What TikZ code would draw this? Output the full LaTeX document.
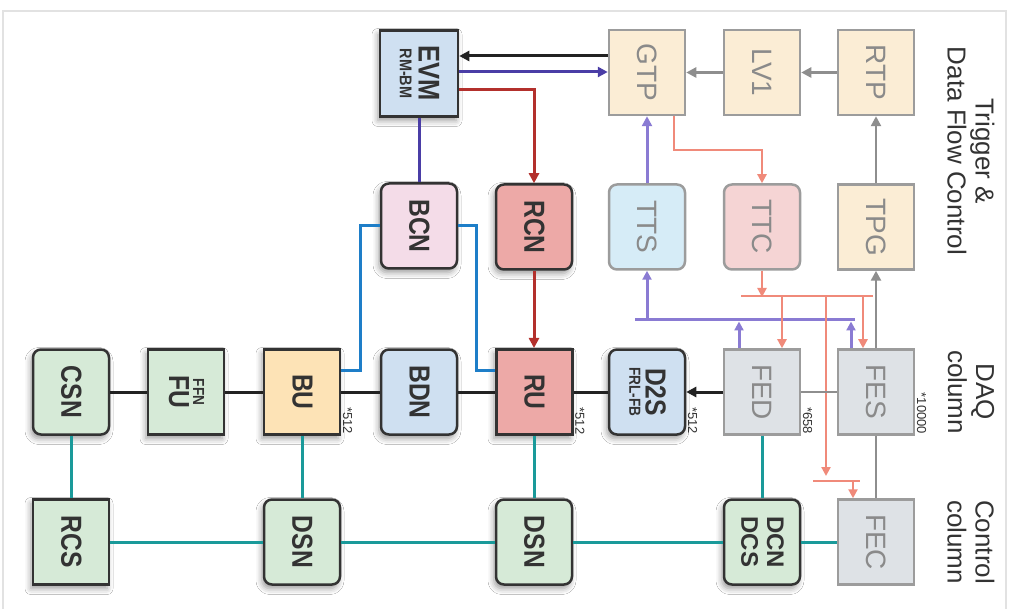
\documentclass[tikz,border=0pt]{standalone}
\usepackage{fontspec}
\setmainfont{Liberation Sans}
\newfontfamily\cnd[FakeStretch=0.85]{Liberation Sans}
\usepackage{graphicx}
\usetikzlibrary{arrows.meta,shadows.blur}
\definecolor{dk}{HTML}{333333}
\definecolor{gr}{HTML}{9C9C9C}
\definecolor{grt}{HTML}{8A8A8A}
\definecolor{beige}{HTML}{FBEDD5}
\definecolor{lblue}{HTML}{CFE0F1}
\definecolor{pinkc}{HTML}{F4DCE8}
\definecolor{rred}{HTML}{EDA9A7}
\definecolor{ttsc}{HTML}{D6ECF7}
\definecolor{ttcc}{HTML}{F5D4D4}
\definecolor{grn}{HTML}{D6EAD7}
\definecolor{buc}{HTML}{FDE3B6}
\definecolor{fec}{HTML}{DEE2E6}
\definecolor{cblk}{HTML}{222222}
\definecolor{cpur}{HTML}{4A3DA6}
\definecolor{cred}{HTML}{B3302C}
\definecolor{cblue}{HTML}{1E7EC8}
\definecolor{cteal}{HTML}{1A9A9A}
\definecolor{cgray}{HTML}{8E8E8E}
\definecolor{clpur}{HTML}{8A7BD3}
\definecolor{csal}{HTML}{F08A7A}
\definecolor{framec}{HTML}{E2E2E2}
\newcommand\rt[1]{\rotatebox[origin=c]{-90}{\fontsize{4}{4}\selectfont\begin{tabular}{@{}c@{}}#1\end{tabular}}}
\newcommand\B[1]{\cnd\bfseries\fontsize{#1}{#1}\selectfont}
\newcommand\Bn[1]{\bfseries\fontsize{#1}{#1}\selectfont}
\newcommand\G{\fontsize{28}{28}\selectfont}
\tikzset{
  dbox/.style={draw=dk, line width=2.5pt, minimum width=76pt, minimum height=85pt, inner sep=0pt, text=dk,
    blur shadow={shadow xshift=-2pt, shadow yshift=-4pt, shadow blur radius=6pt, shadow opacity=40}},
  rbox/.style={dbox, rounded corners=8pt},
  gbox/.style={draw=gr, line width=2.5pt, minimum width=76pt, minimum height=85pt, inner sep=0pt, text=grt},
  grbox/.style={gbox, rounded corners=8pt},
  arr/.style={-{Triangle[length=10pt,width=10pt]}},
  sarr/.style={-{Triangle[length=9pt,width=9pt]}},
  lk/.style={draw=cblk, line width=3pt},
  pu/.style={draw=cpur, line width=3pt},
  rd/.style={draw=cred, line width=3pt},
  bl/.style={draw=cblue, line width=3pt},
  tl/.style={draw=cteal, line width=3pt},
  gy/.style={draw=cgray, line width=2.5pt},
  lp/.style={draw=clpur, line width=3pt},
  sa/.style={draw=csal, line width=2.5pt},
  mult/.style={rotate=-90, anchor=south east, inner sep=1.5pt, text=dk, font=\fontsize{13}{13}\selectfont},
  side/.style={rotate=-90, align=center, text=dk, font=\fontsize{26}{28}\selectfont}
}
\begin{document}
\begin{tikzpicture}[x=1pt,y=-1pt]
\useasboundingbox (0,0) rectangle (1014,609);
\fill[white] (0,0) rectangle (1014,609);
\draw[framec, line width=1.5pt] (3,609) -- (3,11) -- (1006,11) -- (1006,609);

% row 1
\node[dbox, fill=lblue, minimum width=78pt, minimum height=86pt] (evm) at (419,73.5) {\rt{\B{30}EVM\\[6pt]\B{17}RM-BM}};
\node[gbox, fill=beige] (gtp) at (647,72.5) {\rt{\G GTP}};
\node[gbox, fill=beige] (lv1) at (762,72.5) {\rt{\G LV1}};
\node[gbox, fill=beige] (rtp) at (876,72.5) {\rt{\G RTP}};
% row 2
\node[rbox, fill=pinkc] (bcn) at (419,226) {\rt{\B{29}BCN}};
\node[rbox, fill=rred] (rcn) at (534,227) {\rt{\B{29}RCN}};
\node[grbox, fill=ttsc] (tts) at (647,227) {\rt{\G TTS}};
\node[grbox, fill=ttcc] (ttc) at (762,227) {\rt{\G TTC}};
\node[gbox, fill=beige] (tpg) at (876,227) {\rt{\G TPG}};
% row 3
\node[rbox, fill=grn] (csn) at (71,392) {\rt{\B{29}CSN}};
\node[dbox, fill=grn] (fu) at (186,392) {\rt{\B{16}FFN\\[3pt]\B{29}FU}};
\node[dbox, fill=buc] (bu) at (302,392) {\rt{\B{29}BU}};
\node[rbox, fill=lblue] (bdn) at (419,392) {\rt{\B{29}BDN}};
\node[dbox, fill=rred, line width=3pt] (ru) at (534,392) {\rt{\B{29}RU}};
\node[rbox, fill=lblue] (d2s) at (647,392) {\rt{\B{29}D2S\\[4pt]\B{16}FRL-FB}};
\node[gbox, fill=fec] (fed) at (762,392) {\rt{\G FED}};
\node[gbox, fill=fec] (fes) at (876,392) {\rt{\G FES}};
% row 4
\node[dbox, fill=grn] (rcs) at (71,542) {\rt{\B{29}RCS}};
\node[rbox, fill=grn] (dsna) at (302,542) {\rt{\B{29}DSN}};
\node[rbox, fill=grn] (dsnb) at (534,542) {\rt{\B{29}DSN}};
\node[rbox, fill=grn] (dcn) at (762,542) {\rt{\Bn{24}DCN\\[8pt]\Bn{24}DCS}};
\node[gbox, fill=fec] (fec) at (876,542) {\rt{\G FEC}};

% multiplicities
\node[mult] (mbu) at (bu.south east) {*512};
\node[mult] (mru) at (ru.south east) {*512};
\node[mult] (md2s) at (d2s.south east) {*512};
\node[mult] (mfed) at (fed.south east) {*658};
\node[mult] (mfes) at (fes.south east) {*10000};

% side labels
\node[side] (ltrig) at (971,151) {Trigger \&\\Data Flow Control};
\node[side] (ldaq) at (971,392) {DAQ\\column};
\node[side] (lctl) at (971,542) {Control\\column};

% top connectors
\draw[lk, arr] (gtp.west |- 0,56) -- (evm.east |- 0,56);
\draw[pu, arr] (evm.east |- 0,72) -- (gtp.west |- 0,72);
\draw[rd, arr] (evm.east |- 0,90) -- (534,90) -- (rcn.north);
\draw[pu] (evm.south) -- (bcn.north);
\draw[bl] (bcn.west |- 0,226) -- (360,226) -- (360,370) -- (bu.east |- 0,370);
\draw[bl] (bcn.east |- 0,226) -- (476,226) -- (476,370) -- (ru.west |- 0,370);
\draw[rd, arr] (rcn.south) -- (ru.north);
\draw[gy, arr] (lv1.west) -- (gtp.east);
\draw[gy, arr] (rtp.west) -- (lv1.east);
\draw[gy, arr] (tpg.north) -- (rtp.south);
\draw[gy, arr] (fes.north) -- (tpg.south);
\draw[lp, arr] (tts.north) -- (gtp.south);
\draw[sa, sarr] (gtp.south -| 674,0) -- (674,150) -- (762,150) -- (ttc.north);

% purple bus
\draw[lp] (635,320) -- (855,320);
\draw[lp, sarr] (tts.south |- 0,320) -- (tts.south);
\draw[lp, sarr] (fed.north -| 739,0) -- (739,321.5);
\draw[lp, sarr] (fes.north -| 851,0) -- (851,321.5);

% salmon bus
\draw[sa] (741,296) -- (873,296);
\draw[sa, sarr] (ttc.south) -- (ttc.south |- 0,297);
\draw[sa, sarr] (782,296) -- (fed.north -| 782,0);
\draw[sa, sarr] (863,296) -- (fes.north -| 863,0);
\draw[sa, sarr] (826,296) -- (826,476);
\draw[sa] (813,481) -- (860,481);
\draw[sa, sarr] (853,481) -- (fec.north -| 853,0);

% data row
\draw[lk] (csn) -- (fu);
\draw[lk] (fu) -- (bu);
\draw[lk] (bu) -- (bdn);
\draw[lk] (bdn) -- (ru);
\draw[lk] (ru) -- (d2s);
\draw[lk, arr] (fed) -- (d2s);
\draw[gy, line width=2pt] (fed) -- (fes);
\draw[gy] (fes) -- (fec);

% control network
\draw[tl] (csn) -- (rcs);
\draw[tl] (rcs) -- (dsna);
\draw[tl] (bu) -- (dsna);
\draw[tl] (dsna) -- (dsnb);
\draw[tl] (ru) -- (dsnb);
\draw[tl] (dsnb) -- (dcn);
\draw[tl] (fed) -- (dcn);
\draw[tl] (dcn) -- (fec);
\end{tikzpicture}
\end{document}
